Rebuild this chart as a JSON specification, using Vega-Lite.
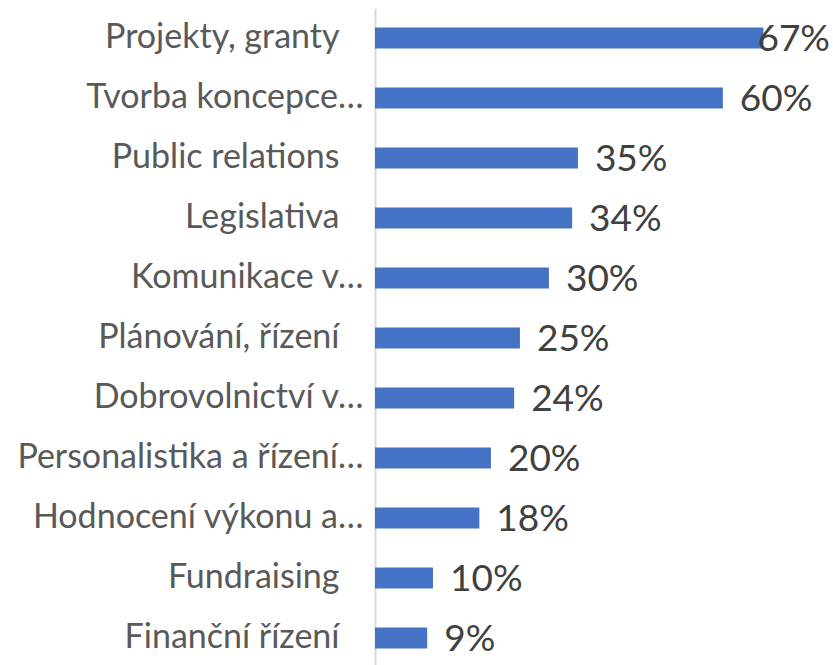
{
  "$schema": "https://vega.github.io/schema/vega-lite/v6.json",
  "autosize": "none",
  "width": 458,
  "height": 660,
  "padding": {"left": 375, "top": 8, "right": 0, "bottom": 0},
  "background": "white",
  "config": {"view": {"stroke": null}, "font": "Lato"},
  "data": {
    "values": [
      {"kategorie": "Projekty, granty", "podil": 0.67},
      {"kategorie": "Tvorba koncepce…", "podil": 0.60},
      {"kategorie": "Public relations", "podil": 0.35},
      {"kategorie": "Legislativa", "podil": 0.34},
      {"kategorie": "Komunikace v…", "podil": 0.30},
      {"kategorie": "Plánování, řízení", "podil": 0.25},
      {"kategorie": "Dobrovolnictví v…", "podil": 0.24},
      {"kategorie": "Personalistika a řízení…", "podil": 0.20},
      {"kategorie": "Hodnocení výkonu a…", "podil": 0.18},
      {"kategorie": "Fundraising", "podil": 0.10},
      {"kategorie": "Finanční řízení", "podil": 0.09}
    ]
  },
  "encoding": {
    "y": {
      "field": "kategorie",
      "type": "nominal",
      "sort": null,
      "scale": {"paddingInner": 0.65, "paddingOuter": 0.325},
      "axis": {
        "title": null,
        "ticks": false,
        "domain": true,
        "domainColor": "#D9D9D9",
        "domainWidth": 2,
        "labelFont": "Lato",
        "labelFontSize": 34,
        "labelColor": "#595959",
        "labelPadding": {"condition": {"test": "indexof(datum.label, '…') >= 0", "value": 12}, "value": 36},
        "labelLimit": 400
      }
    },
    "x": {
      "field": "podil",
      "type": "quantitative",
      "scale": {"domain": [0, 0.79]},
      "axis": null
    }
  },
  "layer": [
    {"mark": {"type": "bar", "color": "#4472C4"}},
    {
      "transform": [{"filter": "datum.podil < 0.65"}],
      "mark": {
        "type": "text",
        "align": "left",
        "baseline": "middle",
        "dx": 17,
        "dy": 2,
        "font": "Lato",
        "fontSize": 37,
        "color": "#404040"
      },
      "encoding": {"text": {"field": "podil", "type": "quantitative", "format": ".0%"}}
    },
    {
      "transform": [{"filter": "datum.podil >= 0.65"}],
      "mark": {
        "type": "text",
        "align": "left",
        "baseline": "middle",
        "dx": -6,
        "dy": 2,
        "font": "Lato",
        "fontSize": 37,
        "color": "#404040"
      },
      "encoding": {"text": {"field": "podil", "type": "quantitative", "format": ".0%"}}
    }
  ]
}
